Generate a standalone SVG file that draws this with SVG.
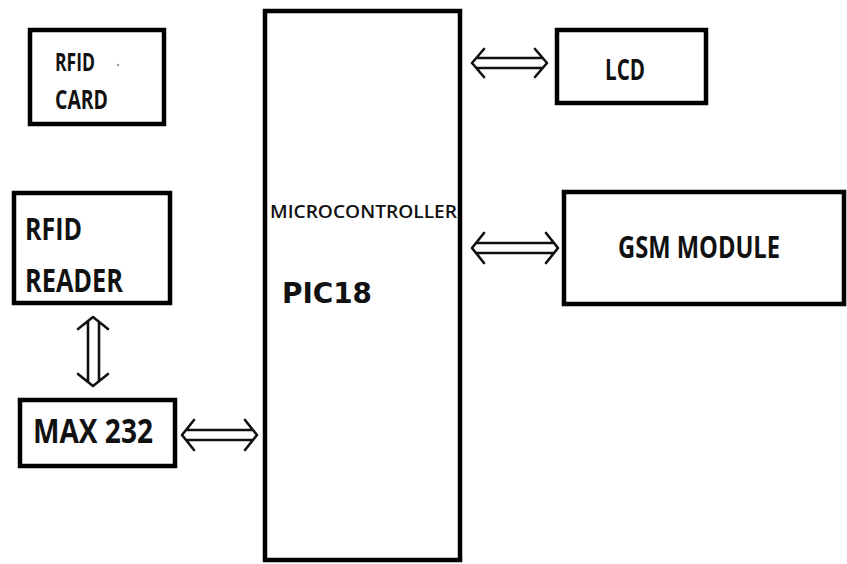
<svg xmlns="http://www.w3.org/2000/svg" width="847" height="564" viewBox="0 0 847 564">
<style>
.box{fill:#fff;stroke:#000;stroke-width:4.5}
.t{font-family:"Open Sans","Liberation Sans",sans-serif;font-weight:700;fill:#111}
.arr{fill:none;stroke:#111;stroke-width:2.6;stroke-linecap:round;stroke-linejoin:round}
</style>
<rect width="847" height="564" fill="#fff"/>
<g id="rfid-card">
<rect class="box" x="30" y="30" width="134" height="94" stroke-width="5"/>
<text class="t" x="55" y="71" font-size="25" textLength="40" lengthAdjust="spacingAndGlyphs">RFID</text>
<text class="t" x="55" y="109" font-size="26" textLength="53" lengthAdjust="spacingAndGlyphs">CARD</text>
<circle cx="118" cy="65" r="1.2" fill="#999"/>
</g>
<g id="microcontroller">
<rect class="box" x="265" y="11" width="195" height="549"/>
<text x="270" y="218" font-family="'Open Sans','Liberation Sans',sans-serif" font-weight="600" font-size="18" fill="#111" textLength="187" lengthAdjust="spacingAndGlyphs">MICROCONTROLLER</text>
<text x="282" y="303" font-family="'DejaVu Sans',sans-serif" font-weight="700" font-size="28" fill="#111" textLength="90" lengthAdjust="spacingAndGlyphs">PIC18</text>
</g>
<g id="lcd">
<rect class="box" x="557" y="30" width="149" height="73" stroke-width="5"/>
<text class="t" x="605" y="80" font-size="28" textLength="40" lengthAdjust="spacingAndGlyphs">LCD</text>
</g>
<g id="gsm-module">
<rect class="box" x="564" y="192" width="280" height="112" stroke-width="5"/>
<text class="t" x="618" y="258" font-size="31" textLength="162" lengthAdjust="spacingAndGlyphs">GSM MODULE</text>
</g>
<g id="rfid-reader">
<rect class="box" x="14" y="193" width="156" height="110"/>
<text class="t" x="25" y="240" font-size="31" textLength="57" lengthAdjust="spacingAndGlyphs">RFID</text>
<text class="t" x="25" y="292" font-size="32" textLength="98" lengthAdjust="spacingAndGlyphs">READER</text>
</g>
<g id="max232">
<rect class="box" x="20" y="400" width="155" height="66"/>
<text class="t" x="33" y="443" font-size="34" textLength="120" lengthAdjust="spacingAndGlyphs">MAX 232</text>
</g>
<g id="connectors">
<!-- LCD <-> MCU -->
<path class="arr" d="M484,49 L472,63 L484,77 M535,49 L547,63 L535,77 M477,58 L542,58 M477,68 L542,68"/>
<!-- GSM <-> MCU -->
<path class="arr" d="M484,233 L472,248 L484,263 M546,233 L558,248 L546,263 M477,243 L553,243 M477,253 L553,253"/>
<!-- MAX232 <-> MCU -->
<path class="arr" d="M194,420 L182,435 L194,450 M245,420 L257,435 L245,450 M187,430 L252,430 M187,440 L252,440"/>
<!-- RFID reader <-> MAX232 -->
<path class="arr" d="M78,329 L93,317 L108,329 M78,374 L93,386 L108,374 M88,322 L88,381 M99,322 L99,381"/>
</g>
</svg>
